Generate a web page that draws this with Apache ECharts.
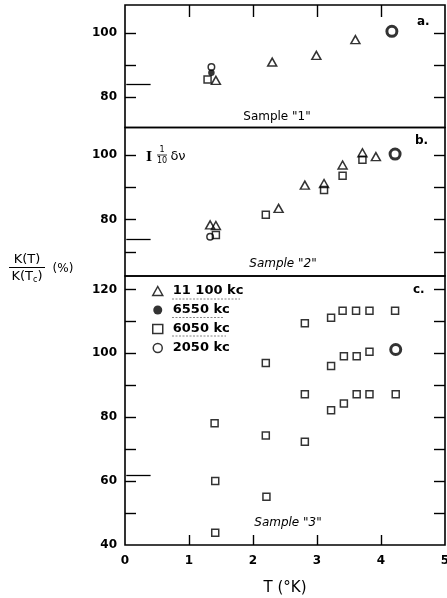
<!DOCTYPE html>
<html><head><meta charset="utf-8">
<script src="https://cdn.jsdelivr.net/npm/echarts@6/dist/echarts.min.js"></script>
<style>html,body{margin:0;padding:0;background:#fff}#c{width:447px;height:598px}</style>
</head><body><div id="c"></div>
<script>
// ---- data (T in K, K(T)/K(Tc) in %) ----
const xTicks = [0, 1, 2, 3, 4, 5];
const legendNames = ['11 100 kc', '6550 kc', '6050 kc', '2050 kc'];
// Panel a (Sample "1")
const aTri = [[1.42, 85.2], [2.30, 90.9], [2.99, 93.0], [3.60, 97.9]];
const aDot = [[1.35, 87.6]];
const aSq = [[1.29, 85.5]];
const aCirc = [[1.35, 89.4]];
const aTc = [[4.17, 100.5]];
const aArrow = [[0.4, 84.0], [0.02, 84.0]];
// Panel b (Sample "2")
const bTri = [[1.33, 78.4], [1.42, 78.2], [2.40, 83.5], [2.81, 90.7], [3.11, 91.2], [3.40, 96.9], [3.71, 100.7], [3.92, 99.5]];
const bSq = [[1.42, 75.3], [2.20, 81.5], [3.11, 89.2], [3.40, 93.6], [3.71, 98.5]];
const bCirc = [[1.33, 74.7]];
const bTc = [[4.22, 100.3]];
const bArrow = [[0.4, 74.0], [0.02, 74.0]];
// Panel c (Sample "3")
const cSq = [[1.40, 78.1], [1.41, 60.0], [1.41, 43.8], [2.20, 97.0], [2.20, 74.3], [2.21, 55.1],
  [2.81, 109.4], [2.81, 87.2], [2.81, 72.3], [3.22, 111.1], [3.22, 96.0], [3.22, 82.2],
  [3.40, 113.3], [3.42, 99.1], [3.42, 84.3], [3.61, 113.3], [3.62, 99.1], [3.62, 87.2],
  [3.82, 113.3], [3.82, 100.5], [3.82, 87.2], [4.22, 113.3], [4.23, 87.2]];
const cTc = [[4.23, 101.2]];
const cArrow = [[0.4, 61.8], [0.02, 61.8]];
// axis ranges / ticks
const aRange = [70.5, 108.7], bRange = [62.6, 108.5], cRange = [40, 124.2];
const aLabels = [80, 100], aTicks = [80, 90, 100];
const bLabels = [80, 100], bTicks = [70, 80, 90, 100];
const cLabels = [40, 60, 80, 100, 120], cTicks = [50, 60, 70, 80, 90, 100, 110, 120];
const xInnerTicks = [1, 2, 3, 4];

const FONT = 'DejaVu Sans';
const chart = echarts.init(document.getElementById('c'), null, {renderer: 'canvas'});

const hollow = {color: 'rgba(0,0,0,0)', borderColor: '#000', borderWidth: 1.5};
const solid = {color: '#000', borderColor: '#000', borderWidth: 0};
const tcStyle = {color: 'rgba(0,0,0,0)', borderColor: '#000', borderWidth: 3};

function sc(name, data, gi, symbol, size, style, z) {
  return {type: 'scatter', name: name, data: data, xAxisIndex: gi, yAxisIndex: gi * 2,
    symbol: symbol, symbolSize: size, itemStyle: style, z: z || 3, animation: false, silent: true};
}
function arrow(data) {
  return {silent: true, animation: false, symbol: ['none', 'arrow'], symbolSize: [0, 8],
    lineStyle: {color: '#000', width: 1.3, type: 'solid'}, label: {show: false},
    emphasis: {disabled: true},
    data: [[{coord: data[0]}, {coord: data[1]}]]};
}
function tc(data, gi, arr) {
  const s = sc('Tc', data, gi, 'circle', 10, tcStyle, 4);
  s.markLine = arrow(arr);
  return s;
}

const grids = [
  {left: 125, top: 5, width: 320, height: 122.5},
  {left: 125, top: 127.5, width: 320, height: 148.5},
  {left: 125, top: 276, width: 320, height: 269}
].map(g => Object.assign({show: true, borderColor: '#000', borderWidth: 1.6, backgroundColor: 'transparent',
  containLabel: false, outerBoundsMode: 'none'}, g));

function xAx(gi, opts) {
  return Object.assign({type: 'value', gridIndex: gi, min: 0, max: 5, interval: 1,
    axisLine: {show: false, onZero: false}, splitLine: {show: false},
    axisTick: {show: false}, axisLabel: {show: false}}, opts || {});
}
function yAx(gi, range, labels, ticks, side) {
  return {type: 'value', gridIndex: gi, min: range[0], max: range[1], position: side,
    axisLine: {show: false, onZero: false}, splitLine: {show: false},
    axisTick: {show: true, inside: true, length: 11, customValues: ticks, lineStyle: {color: '#000', width: 1.4}},
    axisLabel: side === 'left' ? {show: true, customValues: labels, margin: 8, color: '#000',
      fontFamily: FONT, fontSize: 12, fontWeight: 'bold'} : {show: false}};
}

const option = {
  backgroundColor: '#fff',
  animation: false,
  grid: grids,
  xAxis: [
    xAx(0, {position: 'bottom'}),
    xAx(1, {position: 'bottom'}),
    xAx(2, {position: 'bottom',
      axisTick: {show: true, inside: true, length: 10, customValues: xInnerTicks, lineStyle: {color: '#000', width: 1.4}},
      axisLabel: {show: true, margin: 10, color: '#000', fontFamily: FONT, fontSize: 12, fontWeight: 'bold',
        customValues: xTicks},
      name: 'T (°K)', nameLocation: 'middle', nameGap: 36,
      nameTextStyle: {fontFamily: FONT, fontSize: 15, color: '#000'}}),
    xAx(0, {position: 'top',
      axisTick: {show: true, inside: true, length: 12, customValues: xInnerTicks, lineStyle: {color: '#000', width: 1.4}}})
  ],
  yAxis: [
    yAx(0, aRange, aLabels, aTicks, 'left'), yAx(0, aRange, aLabels, aTicks, 'right'),
    yAx(1, bRange, bLabels, bTicks, 'left'), yAx(1, bRange, bLabels, bTicks, 'right'),
    yAx(2, cRange, cLabels, cTicks, 'left'), yAx(2, cRange, cLabels, cTicks, 'right')
  ],
  legend: {
    orient: 'vertical', left: 152, top: 284, padding: 0, itemWidth: 10, itemHeight: 9, itemGap: 5,
    selectedMode: false,
    textStyle: {fontFamily: FONT, fontSize: 13, fontWeight: 'bold', color: '#000', lineHeight: 14, padding: [0, 0, 0, 5]},
    data: [
      {name: legendNames[0], icon: 'triangle', itemStyle: hollow},
      {name: legendNames[1], icon: 'circle', itemStyle: solid},
      {name: legendNames[2], icon: 'rect', itemStyle: {color: 'rgba(0,0,0,0)', borderColor: '#000', borderWidth: 1.5}},
      {name: legendNames[3], icon: 'circle', itemStyle: {color: 'rgba(0,0,0,0)', borderColor: '#000', borderWidth: 1.5}}
    ]
  },
  series: [
    sc(legendNames[2], aSq, 0, 'rect', 7, hollow),
    sc(legendNames[0], aTri, 0, 'triangle', [9, 8], hollow),
    sc(legendNames[3], aCirc, 0, 'circle', 6.5, hollow),
    sc(legendNames[1], aDot, 0, 'circle', 6.5, solid),
    tc(aTc, 0, aArrow),
    sc(legendNames[0], bTri, 1, 'triangle', [9, 8], hollow),
    sc(legendNames[2], bSq, 1, 'rect', 7, hollow),
    sc(legendNames[3], bCirc, 1, 'circle', 6.5, hollow),
    tc(bTc, 1, bArrow),
    sc(legendNames[2], cSq, 2, 'rect', 7, hollow),
    tc(cTc, 2, cArrow)
  ],
  graphic: [
    {type: 'text', left: 417, top: 16, style: {text: 'a.', font: 'bold 12px ' + FONT, fill: '#000'}},
    {type: 'text', left: 415, top: 135, style: {text: 'b.', font: 'bold 12px ' + FONT, fill: '#000'}},
    {type: 'text', left: 413, top: 284, style: {text: 'c.', font: 'bold 12px ' + FONT, fill: '#000'}},
    {type: 'text', x: 277, y: 117, style: {text: 'Sample "1"', font: '12px ' + FONT, fill: '#000', align: 'center', verticalAlign: 'middle'}},
    {type: 'text', x: 283, y: 264, style: {text: 'Sample "2"', font: 'italic 12px ' + FONT, fill: '#000', align: 'center', verticalAlign: 'middle'}},
    {type: 'text', x: 288, y: 523, style: {text: 'Sample "3"', font: 'italic 12px ' + FONT, fill: '#000', align: 'center', verticalAlign: 'middle'}},
    // error bar note
    {type: 'text', x: 149, y: 158, style: {text: 'I', font: 'bold 13px DejaVu Serif', fill: '#000', align: 'center', verticalAlign: 'middle'}},
    {type: 'text', x: 162, y: 150, style: {text: '1', font: '8px ' + FONT, fill: '#000', align: 'center', verticalAlign: 'middle'}},
    {type: 'line', shape: {x1: 157, y1: 155, x2: 167, y2: 155}, style: {stroke: '#000', lineWidth: 0.8}},
    {type: 'text', x: 162, y: 160.5, style: {text: '10', font: '8px ' + FONT, fill: '#000', align: 'center', verticalAlign: 'middle'}},
    {type: 'text', x: 178, y: 157, style: {text: 'δν', font: '13px ' + FONT, fill: '#000', align: 'center', verticalAlign: 'middle'}},
    // y label
    {type: 'text', x: 27, y: 259.5, style: {text: 'K(T)', font: '13px ' + FONT, fill: '#000', align: 'center', verticalAlign: 'middle'}},
    {type: 'line', shape: {x1: 9, y1: 267.5, x2: 45, y2: 267.5}, style: {stroke: '#000', lineWidth: 1.2}},
    {type: 'text', x: 27, y: 276.5, style: {text: '{n|K(T}{s|c}{n|)}', align: 'center', verticalAlign: 'middle', fill: '#000',
      rich: {n: {font: '13px ' + FONT, fill: '#000'}, s: {font: '8px ' + FONT, fill: '#000', padding: [6, 0, 0, 0]}}}},
    {type: 'text', x: 63, y: 269, style: {text: '(%)', font: '12px ' + FONT, fill: '#000', align: 'center', verticalAlign: 'middle'}},
    // legend underlines
    {type: 'line', shape: {x1: 172, y1: 299, x2: 240, y2: 299}, style: {stroke: '#666', lineWidth: 0.8, lineDash: [2, 1.5]}},
    {type: 'line', shape: {x1: 172, y1: 317.5, x2: 224, y2: 317.5}, style: {stroke: '#666', lineWidth: 0.8, lineDash: [2, 1.5]}},
    {type: 'line', shape: {x1: 172, y1: 336, x2: 226, y2: 336}, style: {stroke: '#666', lineWidth: 0.8, lineDash: [2, 1.5]}}
  ]
};
chart.setOption(option);
</script>
</body></html>
